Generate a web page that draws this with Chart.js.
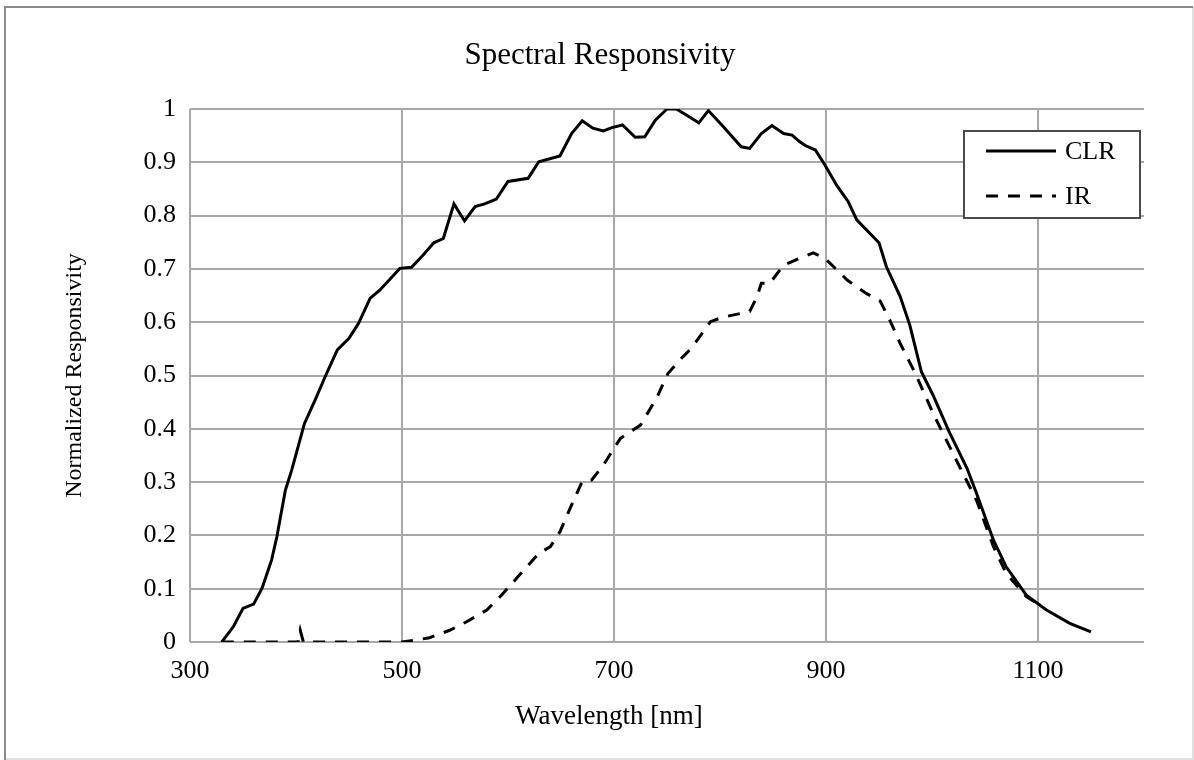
<!DOCTYPE html>
<html>
<head>
<meta charset="utf-8">
<title>Spectral Responsivity</title>
<script src="https://cdn.jsdelivr.net/npm/chart.js@4.4.1/dist/chart.umd.min.js"></script>
<style>
  html, body { margin: 0; padding: 0; background: #fff; }
  canvas { display: block; }
</style>
</head>
<body>
<canvas id="chart" width="1194" height="760"></canvas>
<script>
(function () {
  "use strict";

  // ── Data ─────────────────────────────────────────────────────────────
  var clrWavelength = [330, 341, 350, 360, 368, 377, 382, 390, 396, 408, 418, 428, 439, 450, 459, 470, 479, 498, 509, 520,
    530, 539, 549, 559, 569, 578, 589, 600, 619, 629, 649, 660, 670, 680, 690, 698, 708, 720, 729, 739,
    750, 759, 780, 789, 803, 820, 828, 839, 849, 860, 868, 875, 880, 890, 899, 910, 921, 929, 950, 957,
    970, 979, 990, 1001, 1016, 1033, 1042, 1058, 1070, 1089, 1108, 1130, 1150];
  var clrValues = [0, 0.029, 0.063, 0.071, 0.101, 0.154, 0.198, 0.285, 0.323, 0.410, 0.454, 0.500, 0.548, 0.570, 0.598, 0.645, 0.660, 0.701, 0.703, 0.726,
    0.749, 0.757, 0.822, 0.790, 0.817, 0.822, 0.831, 0.864, 0.870, 0.901, 0.912, 0.954, 0.978, 0.964, 0.959, 0.965, 0.970, 0.947, 0.948, 0.979,
    1.0, 1.0, 0.974, 0.997, 0.967, 0.929, 0.926, 0.954, 0.969, 0.954, 0.951, 0.939, 0.932, 0.923, 0.895, 0.857, 0.826, 0.792, 0.749, 0.704,
    0.648, 0.595, 0.507, 0.463, 0.395, 0.326, 0.279, 0.191, 0.141, 0.088, 0.060, 0.035, 0.019];

  var irWavelength = [330, 360, 402, 404, 407, 450, 500, 514, 526, 545, 561, 580, 594, 611, 629, 640, 649, 662, 670, 679,
    690, 706, 725, 740, 751, 765, 773, 791, 802, 828, 835, 839, 847, 860, 875, 888, 899, 920, 938, 951,
    960, 970, 984, 1001, 1023, 1042, 1058, 1070, 1089, 1097];
  var irValues = [0, 0, 0, 0.022, 0, 0, 0, 0.004, 0.008, 0.022, 0.038, 0.060, 0.088, 0.126, 0.166, 0.179, 0.207, 0.266, 0.301, 0.304,
    0.332, 0.382, 0.407, 0.457, 0.504, 0.535, 0.551, 0.601, 0.609, 0.620, 0.648, 0.673, 0.673, 0.707, 0.720, 0.730, 0.720, 0.679, 0.654, 0.640,
    0.605, 0.560, 0.505, 0.429, 0.341, 0.266, 0.179, 0.129, 0.085, 0.075];

  var xTicks = [300, 500, 700, 900, 1100];
  var yTicks = [0, 0.1, 0.2, 0.3, 0.4, 0.5, 0.6, 0.7, 0.8, 0.9, 1];

  var FONT = "'Liberation Serif', 'Times New Roman', serif";
  var GRID = "#a8a8a8";

  function toPoints(xs, ys) {
    return xs.map(function (x, i) { return { x: x, y: ys[i] }; });
  }

  // ── Frame, titles and boxed legend ───────────────────────────────────
  var decorations = {
    id: "decorations",
    beforeDraw: function (chart) {
      var ctx = chart.ctx;
      ctx.save();
      ctx.fillStyle = "#fff";
      ctx.fillRect(0, 0, chart.width, chart.height);
      ctx.restore();
    },
    afterDraw: function (chart) {
      var ctx = chart.ctx;
      var area = chart.chartArea;
      ctx.save();

      // outer frame
      ctx.lineWidth = 2;
      ctx.strokeStyle = "#e0e0e0";
      ctx.beginPath();
      ctx.moveTo(1193, 7); ctx.lineTo(1193, 759); ctx.lineTo(5, 759);
      ctx.stroke();
      ctx.strokeStyle = "#8a8a8a";
      ctx.beginPath();
      ctx.moveTo(5, 760); ctx.lineTo(5, 7); ctx.lineTo(1193, 7);
      ctx.stroke();

      // chart title and axis titles
      ctx.fillStyle = "#000";
      ctx.textAlign = "center";
      ctx.textBaseline = "middle";
      ctx.font = "31px " + FONT;
      ctx.fillText("Spectral Responsivity", 600, 56);
      ctx.font = "27px " + FONT;
      ctx.fillText("Wavelength [nm]", 609, 717);
      ctx.font = "24px " + FONT;
      ctx.translate(75, (area.top + area.bottom) / 2);
      ctx.rotate(-Math.PI / 2);
      ctx.fillText("Normalized Responsivity", 0, 0);
      ctx.setTransform(1, 0, 0, 1, 0, 0);

      // legend box
      var bx = area.right - 180, by = area.top + 22, bw = 176, bh = 87;
      ctx.fillStyle = "#fff";
      ctx.fillRect(bx, by, bw, bh);
      ctx.lineWidth = 2;
      ctx.strokeStyle = "#4a4a4a";
      ctx.strokeRect(bx, by, bw, bh);

      ctx.font = "26px " + FONT;
      ctx.textAlign = "left";
      chart.data.datasets.forEach(function (ds, i) {
        var ly = by + 20 + i * 45;
        ctx.strokeStyle = ds.borderColor;
        ctx.lineWidth = 3;
        ctx.setLineDash(ds.borderDash || []);
        ctx.beginPath();
        ctx.moveTo(bx + 22, ly);
        ctx.lineTo(bx + 92, ly);
        ctx.stroke();
        ctx.setLineDash([]);
        ctx.fillStyle = "#000";
        ctx.fillText(ds.label, bx + 101, ly + 1);
      });
      ctx.restore();
    }
  };

  // ── Chart ────────────────────────────────────────────────────────────
  function initChart() {
    var canvas = document.getElementById("chart");
    if (!canvas || typeof Chart === "undefined") return;

    new Chart(canvas.getContext("2d"), {
      type: "line",
      data: {
        datasets: [{
          label: "CLR",
          data: toPoints(clrWavelength, clrValues),
          borderColor: "#000",
          borderWidth: 3,
          pointRadius: 0,
          tension: 0,
          fill: false
        }, {
          label: "IR",
          data: toPoints(irWavelength, irValues),
          borderColor: "#000",
          borderWidth: 3,
          borderDash: [12, 10],
          pointRadius: 0,
          tension: 0,
          fill: false
        }]
      },
      options: {
        responsive: false,
        animation: false,
        devicePixelRatio: 1,
        layout: { padding: { left: 0, right: 50, top: 109, bottom: 0 } },
        plugins: {
          legend: { display: false },
          tooltip: { enabled: false },
          title: { display: false }
        },
        scales: {
          x: {
            type: "linear",
            min: 300,
            max: 1200,
            afterBuildTicks: function (scale) {
              scale.ticks = xTicks.map(function (v) { return { value: v }; });
            },
            afterFit: function (scale) { scale.height = 118; },
            grid: { color: GRID, lineWidth: 2, drawTicks: false },
            border: { display: false },
            ticks: {
              color: "#000",
              padding: 14,
              maxRotation: 0,
              font: { family: FONT, size: 26 },
              callback: function (v) { return String(v); }
            }
          },
          y: {
            min: 0,
            max: 1,
            afterBuildTicks: function (scale) {
              scale.ticks = yTicks.map(function (v) { return { value: v }; });
            },
            afterFit: function (scale) { scale.width = 190; },
            grid: { color: GRID, lineWidth: 2, drawTicks: false },
            border: { display: false },
            ticks: {
              color: "#000",
              padding: 14,
              font: { family: FONT, size: 26 },
              callback: function (v) { return String(+v.toFixed(1)); }
            }
          }
        }
      },
      plugins: [decorations]
    });
  }

  document.addEventListener("DOMContentLoaded", initChart);
})();
</script>
</body>
</html>
